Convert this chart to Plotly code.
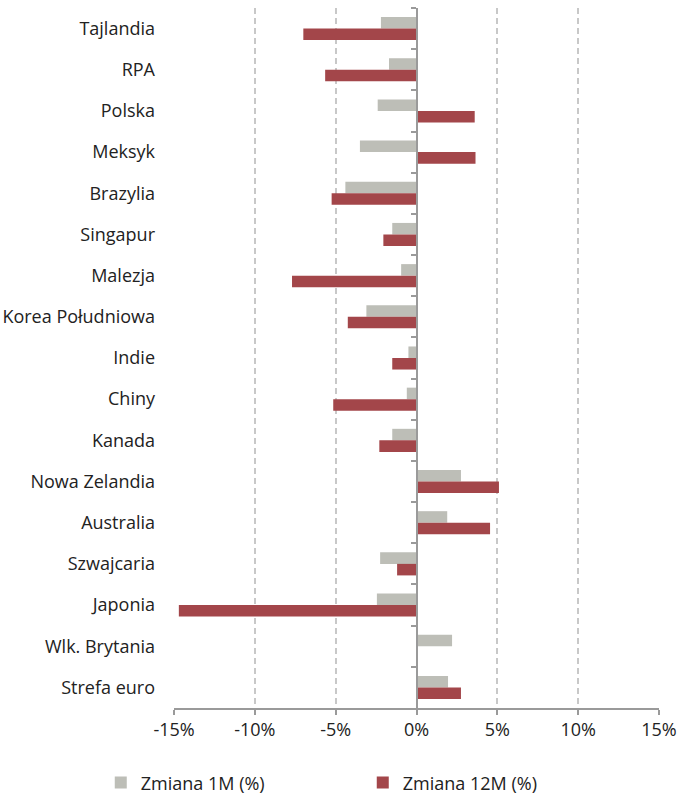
import plotly.graph_objects as go

categories = ["Tajlandia", "RPA", "Polska", "Meksyk", "Brazylia", "Singapur", "Malezja",
              "Korea Południowa", "Indie", "Chiny", "Kanada", "Nowa Zelandia", "Australia",
              "Szwajcaria", "Japonia", "Wlk. Brytania", "Strefa euro"]
change_1m = [-2.2, -1.7, -2.4, -3.5, -4.4, -1.5, -0.95, -3.1, -0.5, -0.6, -1.5,
             2.75, 1.9, -2.25, -2.45, 2.2, 1.95]
change_12m = [-7.0, -5.65, 3.6, 3.65, -5.25, -2.05, -7.7, -4.25, -1.5, -5.15, -2.3,
              5.1, 4.55, -1.2, -14.7, 0.0, 2.75]
x_ticks = [-15, -10, -5, 0, 5, 10, 15]
x_tick_labels = ["-15%", "-10%", "-5%", "0%", "5%", "10%", "15%"]
series_names = ["Zmiana 1M (%)", "Zmiana 12M (%)"]

FONT = "Open Sans"
FS = 18
n = len(categories)

fig = go.Figure()
fig.add_trace(go.Bar(y=categories, x=change_1m, orientation="h", name=series_names[0],
                     marker=dict(color="#BDBEB7", line=dict(width=0))))
fig.add_trace(go.Bar(y=categories, x=change_12m, orientation="h", name=series_names[1],
                     marker=dict(color="#A3464A", line=dict(width=0))))
# invisible helper trace to carry the category ticks at the zero line
fig.add_trace(go.Scatter(y=categories, x=[0] * n, yaxis="y2", mode="markers",
                         marker=dict(opacity=0), showlegend=False, hoverinfo="skip"))

fig.update_layout(
    width=679, height=800,
    margin=dict(l=174, r=20, t=8, b=92, autoexpand=False),
    paper_bgcolor="white", plot_bgcolor="white",
    barmode="group", bargap=0.44, bargroupgap=0,
    font=dict(family=FONT, size=FS, color="#222222"),
    xaxis=dict(range=[-15, 15], tickvals=x_ticks, ticktext=x_tick_labels, automargin=False,
               showgrid=True, gridcolor="#C8C8C8", griddash="6px,4px", gridwidth=1.5,
               zeroline=False, showline=True, linecolor="#9A9A9A", linewidth=1.5,
               ticks="outside", ticklen=5, tickcolor="#9A9A9A", tickwidth=1.5,
               tickfont=dict(family=FONT, size=FS, color="#222222")),
    yaxis=dict(type="category", categoryorder="array", categoryarray=categories,
               range=[n - 0.5, -0.5], showgrid=False, showline=False, zeroline=False,
               ticks="", ticklabelstandoff=18, automargin=False,
               tickfont=dict(family=FONT, size=FS, color="#222222")),
    yaxis2=dict(type="category", categoryorder="array", categoryarray=categories,
                range=[n - 0.5, -0.5], overlaying="y", anchor="free", position=0.5,
                showline=True, linecolor="#9A9A9A", linewidth=1.5, showgrid=False,
                zeroline=False, ticks="outside", tickson="boundaries", ticklen=5,
                tickcolor="#9A9A9A", tickwidth=1.5, showticklabels=False, automargin=False),
    legend=dict(orientation="h", x=-0.151, y=-0.107, xanchor="left", yanchor="middle",
                entrywidth=217, entrywidthmode="pixels",
                font=dict(family=FONT, size=FS, color="#222222"), traceorder="normal"),
    showlegend=True,
)

fig.write_html("out.html", config={"displayModeBar": False},
               post_script="document.body.style.margin='0';document.body.style.overflow='hidden';")
